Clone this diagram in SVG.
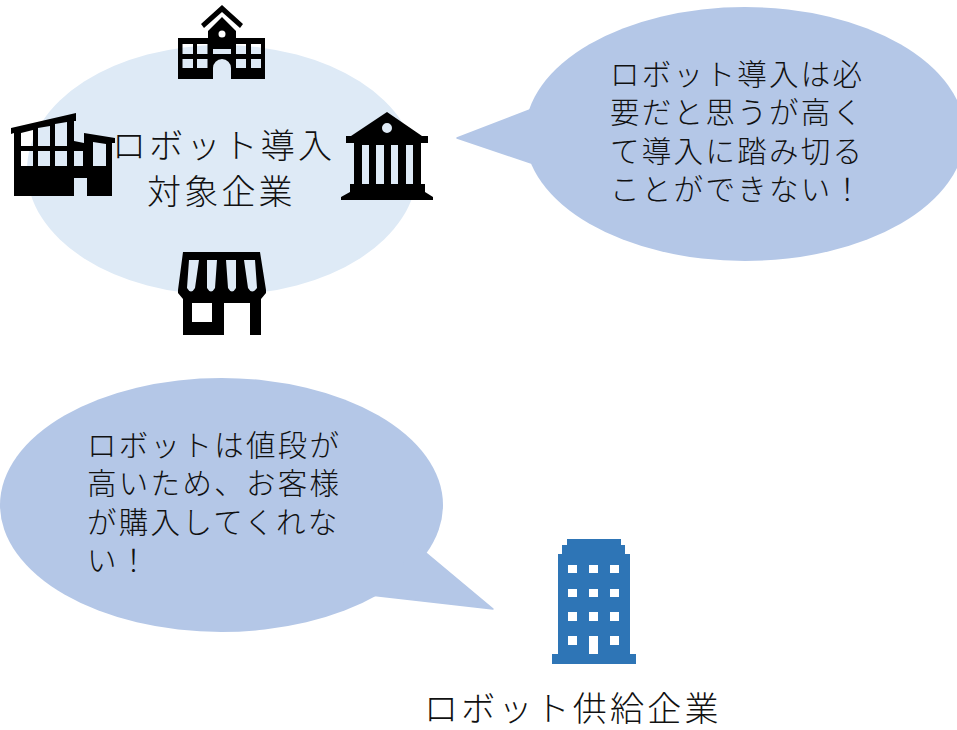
<svg xmlns="http://www.w3.org/2000/svg" width="957" height="730" viewBox="0 0 957 730">
<style>
text{font-family:"Noto Sans CJK JP","Noto Sans CJK SC",sans-serif;font-weight:300;fill:#111}
.b{font-size:29.500px;letter-spacing:2.300px}
.l{font-size:34px;letter-spacing:3.200px}
.bubble{fill:#b4c7e7}
.icon{fill:#000;fill-rule:evenodd}
</style>
<rect width="957" height="730" fill="#fff"/>
<g id="target-group"><ellipse cx="222" cy="170" rx="195" ry="125" fill="#deeaf6"/></g>
<g id="school"><path class="icon" d="M178 38H208V31L222 17L236 31V38H265V79H231V68A9 9 0 0 0 213 68V79H178ZM182.500 44V54H193V44ZM197 44V54H207.500V44ZM236 44V54H246V44ZM251 44V54H261V44ZM182.500 59V68H193V59ZM197 59V68H207.500V59ZM236 59V68H246V59ZM251 59V68H261V59ZM213 49V54H231V49ZM222 30.500A3.500 3.500 0 1 0 222 37.500A3.500 3.500 0 1 0 222 30.500Z"/><path class="icon" d="M222 5L243 24L240 28L222 12L204 28L201 24Z"/></g>
<g id="factory"><path class="icon" d="M11 128L76 113V121H74V141L84 143V133L115 138V143H112V196H87V178H74V196H14V133L11 134ZM21 133V146H33V130ZM38 128V146H50V126ZM55 124V146H67V122ZM21 151V166H33V151ZM38 151V166H50V151ZM55 151V166H67V151ZM74 151V166H83V151ZM93 142V166H106V144Z"/></g>
<g id="bank"><path class="icon" d="M387 112L422 136H428V143H421V184H425V192L433 197V200H341V197L350 192V184H354V143H346V136H351ZM362 145V184H369V145ZM376 145V184H384V145ZM391 145V184H398V145ZM406 145V184H413V145ZM387 123A5 5 0 1 0 387 133A5 5 0 1 0 387 123Z"/></g>
<g id="store"><path class="icon" d="M183 252H260L266 290V293L261 299V335H250V303H224V335H183V299L178 293V290ZM189 260L187 288Q191 295 195 288L199 260ZM207 260V288Q211 295 215 288L217 260ZM226 260L228 288Q232 295 236 288V260ZM244 260L248 288Q252 295 257 288L255 260ZM192 303V322H212V303Z"/></g>
<g id="supplier"><path fill="#2e75b6" fill-rule="evenodd" d="M567 539H621V545H625V554H630V654H636V664H552V654H558V554H562V545H567ZM568 565V573H577V565ZM589 565V573H598V565ZM610 565V573H619V565ZM568 589V597H577V589ZM589 589V597H598V589ZM610 589V597H619V589ZM568 612V621H577V612ZM589 612V621H598V612ZM610 612V621H619V612ZM568 636V645H577V636ZM589 636V654H598V636ZM610 636V645H619V636Z"/></g>
<g id="bubble-target"><ellipse class="bubble" cx="745" cy="134" rx="220" ry="127"/><path class="bubble" d="M457 138L540 106V166Z" stroke="#b4c7e7" stroke-width="1.500" stroke-linejoin="round"/></g>
<g id="bubble-supplier"><ellipse class="bubble" cx="221.500" cy="505" rx="221.500" ry="127"/><path class="bubble" d="M493 609L420 548L370 595Z" stroke="#b4c7e7" stroke-width="1.500" stroke-linejoin="round"/></g>
<g id="connectors"/>
<g id="labels">
<text class="l" x="112" y="158">ロボット導入</text>
<text class="l" x="147" y="204">対象企業</text>
<text class="b" x="610" y="85">ロボット導入は必</text>
<text class="b" x="610" y="123">要だと思うが高く</text>
<text class="b" x="610" y="162">て導入に踏み切る</text>
<text class="b" x="610" y="200">ことができない！</text>
<text class="b" x="87" y="456">ロボットは値段が</text>
<text class="b" x="87" y="494">高いため、お客様</text>
<text class="b" x="87" y="533">が購入してくれな</text>
<text class="b" x="87" y="571">い！</text>
<text class="l" x="424" y="720.500">ロボット供給企業</text>
</g>
</svg>
